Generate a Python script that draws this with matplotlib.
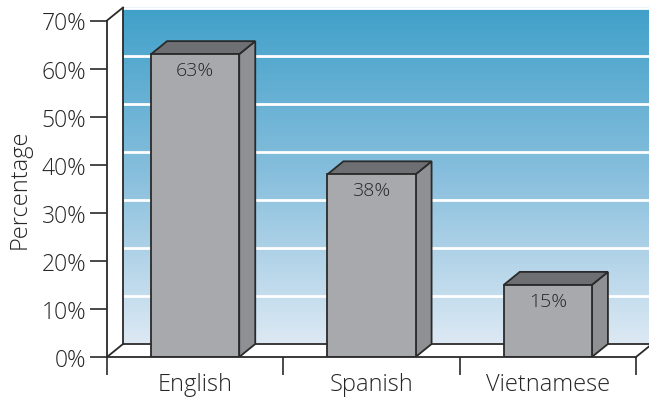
import matplotlib
matplotlib.use('Agg')
import matplotlib.pyplot as plt
import numpy as np
from matplotlib.patches import Polygon
from matplotlib.colors import LinearSegmentedColormap

categories = ['English', 'Spanish', 'Vietnamese']
values = [63, 38, 15]
bar_labels = ['63%', '38%', '15%']
yticks = [0, 10, 20, 30, 40, 50, 60, 70]
ytick_labels = ['0%', '10%', '20%', '30%', '40%', '50%', '60%', '70%']

plt.rcParams['font.family'] = ['Open Sans', 'DejaVu Sans']
plt.rcParams['font.weight'] = 'light'

W, H = 649, 402
fig = plt.figure(figsize=(W / 100, H / 100), dpi=100)
ax = fig.add_axes([107 / W, (H - 358) / H, 529 / W, 336.5 / H])
ymax = 70
ncat = len(categories)
dx = 16 / (529 / ncat)
dy = 13 / (336.5 / ymax)

line_c = '#2a2a2a'
text_c = '#262626'
lw = 1.3

# back wall gradient
cmap = LinearSegmentedColormap.from_list('wall', ['#dde9f4', '#88bfdd', '#40a0c9'])
grad = np.linspace(0, 1, 256).reshape(-1, 1)
ax.imshow(grad, extent=(dx, ncat + dx + 0.2, dy, ymax + dy), origin='lower',
          aspect='auto', cmap=cmap, zorder=0, clip_on=False)

# gridlines on back wall
for t in yticks:
    ax.plot([dx, ncat + dx + 0.2], [t + dy, t + dy], color='white', lw=2,
            zorder=1, clip_on=False, solid_capstyle='butt')

# left side wall
ax.add_patch(Polygon([(0, 0), (dx, dy), (dx, ymax + dy), (0, ymax)],
                     closed=True, facecolor='white', edgecolor='none',
                     zorder=1.5, clip_on=False))
# floor
ax.add_patch(Polygon([(0, 0), (ncat, 0), (ncat + dx, dy), (dx, dy)],
                     closed=True, facecolor='white', edgecolor='none',
                     zorder=1.5, clip_on=False))
# outline lines
ax.plot([dx, dx], [dy, ymax + dy], color=line_c, lw=lw, zorder=2, clip_on=False)
ax.plot([dx, ncat + dx + 0.2], [dy, dy], color=line_c, lw=lw, zorder=2, clip_on=False)
ax.plot([0, dx], [ymax, ymax + dy], color=line_c, lw=lw, zorder=2, clip_on=False)
ax.plot([0, dx], [0, dy], color=line_c, lw=lw, zorder=2, clip_on=False)
ax.plot([ncat, ncat + dx], [0, dy], color=line_c, lw=lw, zorder=2, clip_on=False)

# bars
bw = 0.5
for i, v in enumerate(values):
    x0 = i + 0.5 - bw / 2
    x1 = i + 0.5 + bw / 2
    front = Polygon([(x0, 0), (x1, 0), (x1, v), (x0, v)], closed=True,
                    facecolor='#a8a9ad', edgecolor=line_c, lw=lw, zorder=4,
                    joinstyle='miter')
    side = Polygon([(x1, 0), (x1 + dx, dy), (x1 + dx, v + dy), (x1, v)], closed=True,
                   facecolor='#8f9094', edgecolor=line_c, lw=lw, zorder=3,
                   joinstyle='miter')
    top = Polygon([(x0, v), (x1, v), (x1 + dx, v + dy), (x0 + dx, v + dy)], closed=True,
                  facecolor='#6e6f73', edgecolor=line_c, lw=lw, zorder=3,
                  joinstyle='miter')
    for p in (side, top, front):
        ax.add_patch(p)
    ax.annotate(bar_labels[i], xy=(i + 0.5, v), xytext=(0, -5),
                textcoords='offset points', ha='center', va='top',
                fontsize=14, color=text_c, zorder=5)

ax.set_xlim(0, ncat)
ax.set_ylim(0, ymax)

for s in ['top', 'right']:
    ax.spines[s].set_visible(False)
for s in ['left', 'bottom']:
    ax.spines[s].set_color(line_c)
    ax.spines[s].set_linewidth(lw)
    ax.spines[s].set_zorder(6)

ax.set_yticks(yticks, ytick_labels)
ax.tick_params(axis='y', length=12, width=1.2, pad=3, labelsize=16.5,
               colors=line_c, labelcolor=text_c)
ax.set_xticks(range(ncat + 1), [''] * (ncat + 1))
ax.set_xticks([i + 0.5 for i in range(ncat)], categories, minor=True)
ax.tick_params(axis='x', which='major', length=13, width=1.2, colors=line_c)
ax.tick_params(axis='x', which='minor', length=0, pad=11, labelsize=17,
               labelcolor=text_c)

ax.text(-0.165, 0.5, 'Percentage', transform=ax.transAxes, rotation=90,
        ha='center', va='center', fontsize=17, color=text_c)

fig.savefig('out.png', dpi=100)
